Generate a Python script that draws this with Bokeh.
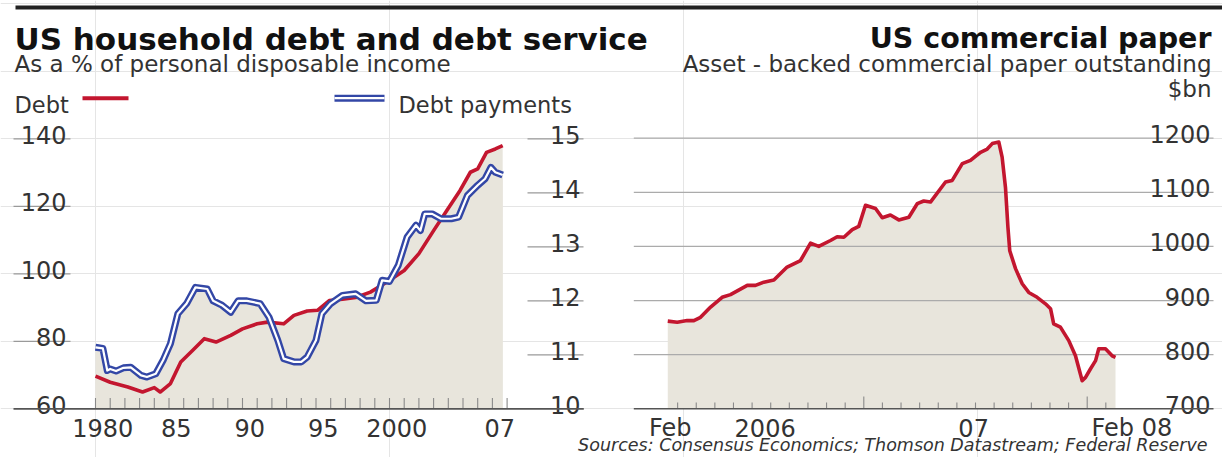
from bokeh.plotting import figure
from bokeh.models import Range1d
from bokeh.embed import file_html
from bokeh.resources import INLINE
from bokeh.core.properties import value

# ---------------- data: US household debt and debt service ----------------
debt_years = [1980.0, 1981.0, 1982.2, 1983.2, 1984.0, 1984.4, 1985.1, 1985.8, 1986.6, 1987.4,
              1988.2, 1989.2, 1990.0, 1991.0, 1991.7, 1992.8, 1993.5, 1994.4, 1995.1, 1995.9,
              1996.8, 1997.7, 1998.7, 1999.8, 2001.0, 2002.0, 2003.0, 2003.9, 2004.8, 2005.5,
              2006.0, 2006.6, 2007.2, 2007.7]
debt_pct = [69.7, 67.9, 66.5, 65.0, 66.3, 65.0, 67.5, 73.9, 77.3, 80.8,
            79.8, 81.8, 83.7, 85.2, 85.7, 85.2, 87.7, 89.0, 89.2, 92.1,
            92.5, 93.0, 94.6, 97.5, 101.0, 106.0, 112.8, 118.8, 124.7, 130.1,
            131.1, 136.0, 137.0, 138.0]

pay_years = [1980.0, 1980.5, 1980.8, 1981.0, 1981.4, 1981.9, 1982.4, 1983.1, 1983.5, 1984.1,
             1984.6, 1985.1, 1985.6, 1986.2, 1986.8, 1987.6, 1988.0, 1988.6, 1989.2, 1989.7,
             1990.3, 1991.2, 1991.8, 1992.4, 1992.8, 1993.5, 1994.0, 1994.4, 1995.0, 1995.4,
             1996.0, 1996.8, 1997.7, 1998.4, 1999.1, 1999.5, 2000.0, 2000.6, 2001.2, 2001.8,
             2002.1, 2002.4, 2002.9, 2003.5, 2004.2, 2004.7, 2005.3, 2006.0, 2006.5, 2006.9,
             2007.2, 2007.7]
pay_pct = [11.14, 11.12, 10.71, 10.74, 10.70, 10.76, 10.77, 10.62, 10.59, 10.65,
           10.90, 11.21, 11.76, 11.95, 12.25, 12.22, 12.00, 11.92, 11.79, 12.00,
           12.00, 11.95, 11.70, 11.27, 10.93, 10.87, 10.87, 10.96, 11.27, 11.76,
           11.95, 12.10, 12.13, 12.00, 12.01, 12.38, 12.36, 12.66, 13.18, 13.40,
           13.30, 13.61, 13.61, 13.52, 13.52, 13.55, 13.95, 14.14, 14.26, 14.47,
           14.38, 14.33]

debt_ticks = [140, 120, 100, 80, 60]
pay_ticks = [15, 14, 13, 12, 11, 10]
year_ticks = list(range(1980, 2009))
year_label_years = [1980, 1985, 1990, 1995, 2000, 2007]
year_labels = ["1980", "85", "90", "95", "2000", "07"]

# ---------------- data: US commercial paper (months since Jan 2006) ----------------
abcp_month = [1.47, 1.98, 2.51, 2.87, 3.23, 3.77, 4.39, 4.84, 5.74, 6.18,
              6.63, 7.17, 7.88, 8.60, 9.14, 9.58, 10.21, 10.57, 10.93, 11.38,
              11.73, 12.09, 12.63, 12.99, 13.43, 13.88, 14.42, 14.87, 15.22, 15.58,
              16.39, 16.75, 17.29, 17.73, 18.27, 18.63, 18.90, 19.25, 19.43, 19.61,
              19.74, 19.84, 20.15, 20.51, 20.86, 21.31, 21.76, 22.03, 22.20, 22.56,
              23.01, 23.37, 23.73, 23.91, 24.18, 24.45, 24.62, 24.98, 25.34, 25.52]
abcp_bn = [862, 860, 863, 863, 869, 888, 906, 911, 928, 928,
           934, 938, 962, 974, 1006, 1000, 1011, 1018, 1017, 1031,
           1037, 1076, 1070, 1053, 1058, 1049, 1054, 1079, 1084, 1082,
           1119, 1122, 1153, 1159, 1174, 1180, 1190, 1193, 1165, 1109,
           1036, 992, 959, 931, 915, 906, 894, 885, 857, 851,
           826, 798, 752, 758, 774, 789, 811, 811, 798, 795]
abcp_ticks = [1200, 1100, 1000, 900, 800, 700]
month_ticks = list(range(2, 26))
month_major = [12, 24]
month_label_pos = [1.6, 6.7, 17.9, 26.4]
month_labels = ["Feb", "2006", "07", "Feb 08"]

# ---------------- styling ----------------
RED = "#c3162f"
BLUE = "#3347a6"
FILL = "#e8e5dc"
TXT = "#333333"
FONT = value("DejaVu Sans")
NUM = "24px"

W, H = 1222, 457
OX, OY = 0, 0  # picture coordinate = canvas coordinate


def inv(px0, v0, px_per_unit, px):
    return v0 + (px - px0) / px_per_unit


# calibration of the scales to the picture (pixel anchors)
x_years = Range1d(inv(95.0, 1980, 14.7, OX), inv(95.0, 1980, 14.7, OX + W))
y_debt = Range1d(inv(408.4, 60, -3.376, OY + H), inv(408.4, 60, -3.376, OY))
y_pay = Range1d(inv(408.4, 10, -54.02, OY + H), inv(408.4, 10, -54.02, OY))
x_month = Range1d(inv(863.3, 12, 18.617, OX), inv(863.3, 12, 18.617, OX + W))
y_abcp = Range1d(inv(408.3, 700, -0.5412, OY + H), inv(408.3, 700, -0.5412, OY))

p = figure(width=W, height=H, x_range=x_years, y_range=y_debt,
           output_backend="svg", toolbar_location=None,
           x_axis_location=None, y_axis_location=None, min_border=0,
           background_fill_color="white", border_fill_color="white",
           outline_line_color=None)
p.extra_x_ranges = {"month": x_month, "px": Range1d(OX, OX + W)}
p.extra_y_ranges = {"pay": y_pay, "abcp": y_abcp, "px": Range1d(OY + H, OY)}


def txt(x, y, s, size, align="left", style="normal", color=TXT, xr="px", yr="px", yoff=0):
    p.text(x=x, y=y, text=s, text_font=FONT, text_font_size=size, text_font_style=style,
           text_color=color, text_align=align, text_baseline="alphabetic",
           x_range_name=xr, y_range_name=yr, y_offset=yoff)


# top rule
p.rect(x=[618.5], y=[7], width=[1207], height=[4], fill_color="#222222", line_color=None,
       x_range_name="px", y_range_name="px")

# titles
txt([14], [38], ["US household debt and debt service"], "31px", style="bold", color="#111111")
txt([14], [63.5], ["As a % of personal disposable income"], "23px")
txt([1211], [38], ["US commercial paper"], "28.5px", align="right", style="bold", color="#111111")
txt([1211], [63.5], ["Asset - backed commercial paper outstanding"], "23px", align="right")
txt([1211], [88], ["$bn"], "23px", align="right")

# legend (left chart)
txt([14], [104], ["Debt"], "22.5px")
p.segment(x0=[82], y0=[97.7], x1=[128], y1=[97.7], line_color=RED, line_width=4,
          x_range_name="px", y_range_name="px")
p.segment(x0=[334], y0=[97.7], x1=[384], y1=[97.7], line_color=BLUE, line_width=7,
          x_range_name="px", y_range_name="px")
p.segment(x0=[334], y0=[97.7], x1=[384], y1=[97.7], line_color="white", line_width=2.2,
          x_range_name="px", y_range_name="px")
txt([398], [104], ["Debt payments"], "22.5px")

# ---------- left chart ----------
p.varea(x=debt_years, y1=[60] * len(debt_years), y2=debt_pct, fill_color=FILL)
p.varea(x=pay_years, y1=[10] * len(pay_years), y2=pay_pct, fill_color=FILL, y_range_name="pay")

# value labels with short underlines
p.segment(x0=[13] * len(debt_ticks[:-1]), x1=[70] * len(debt_ticks[:-1]),
          y0=debt_ticks[:-1], y1=debt_ticks[:-1], line_color="#9a9a9a", line_width=1.2,
          x_range_name="px")
txt([66] * len(debt_ticks), debt_ticks, [str(v) for v in debt_ticks], NUM, align="right",
    xr="px", yr="default", yoff=-4)
p.segment(x0=[527] * len(pay_ticks[:-1]), x1=[583] * len(pay_ticks[:-1]),
          y0=pay_ticks[:-1], y1=pay_ticks[:-1], line_color="#9a9a9a", line_width=1.2,
          x_range_name="px", y_range_name="pay")
txt([580] * len(pay_ticks), pay_ticks, [str(v) for v in pay_ticks], NUM, align="right",
    xr="px", yr="pay", yoff=-4)

# year ticks
p.segment(x0=year_ticks, x1=year_ticks, y0=[408.4] * len(year_ticks), y1=[397.5] * len(year_ticks),
          line_color="#8a8a8a", line_width=1.1, y_range_name="px")

p.line(debt_years, debt_pct, line_color=RED, line_width=3.6, line_join="round")
p.line(pay_years, pay_pct, line_color=BLUE, line_width=7, line_join="round", y_range_name="pay")
p.line(pay_years, pay_pct, line_color="white", line_width=2.2, line_join="round", y_range_name="pay")

# baseline and year labels
p.segment(x0=[13], x1=[583.3], y0=[60], y1=[60], line_color="#555555", line_width=1.6,
          x_range_name="px")
txt([y + 0.5 for y in year_label_years], [427] * len(year_labels), year_labels, NUM,
    align="center", xr="default")

# ---------- right chart ----------
p.varea(x=abcp_month, y1=[700] * len(abcp_month), y2=abcp_bn, fill_color=FILL,
        x_range_name="month", y_range_name="abcp")
p.segment(x0=[633.3] * len(abcp_ticks[:-1]), x1=[1213] * len(abcp_ticks[:-1]),
          y0=abcp_ticks[:-1], y1=abcp_ticks[:-1], line_color="#ababab", line_width=1.2,
          x_range_name="px", y_range_name="abcp")
txt([1210] * len(abcp_ticks), abcp_ticks, [str(v) for v in abcp_ticks], NUM, align="right",
    xr="px", yr="abcp", yoff=-4)

minor = [m for m in month_ticks if m not in month_major]
p.segment(x0=minor, x1=minor, y0=[408.3] * len(minor), y1=[402] * len(minor),
          line_color="#8a8a8a", line_width=1.1, x_range_name="month", y_range_name="px")
p.segment(x0=month_major, x1=month_major, y0=[408.3] * len(month_major),
          y1=[396] * len(month_major), line_color="#8a8a8a", line_width=1.1,
          x_range_name="month", y_range_name="px")

p.line(abcp_month, abcp_bn, line_color=RED, line_width=3.6, line_join="round",
       x_range_name="month", y_range_name="abcp")

p.segment(x0=[633.3], x1=[1213], y0=[700], y1=[700], line_color="#555555", line_width=1.6,
          x_range_name="px", y_range_name="abcp")
txt(month_label_pos, [427] * len(month_labels), month_labels, NUM, align="center",
    xr="month")

# sources
txt([1207], [444], ["Sources: Consensus Economics; Thomson Datastream; Federal Reserve"], "17.5px",
    align="right", style="italic")

open("out.html", "w").write(file_html(p, INLINE))
